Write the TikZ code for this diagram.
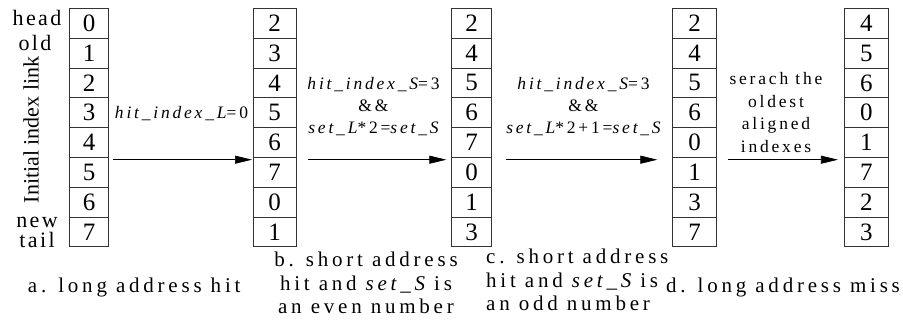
\documentclass[tikz,border=0pt]{standalone}
\usepackage{fontspec}
\setmainfont{Liberation Serif}
\usetikzlibrary{arrows.meta}

\begin{document}
\begin{tikzpicture}[x=1pt,y=-1pt,
        cell/.style={draw=black!80, line width=0.7pt, minimum height=29.8pt, inner sep=0pt, anchor=north, font=\fontsize{25}{25}\selectfont},
        arr/.style={-{Triangle[length=17pt,width=8pt]}, line width=0.7pt},
        lbl/.style={font=\fontsize{17.5}{22.4}\selectfont\addfontfeature{LetterSpace=16}, align=center, inner sep=0pt},
        captxt/.style={font=\fontsize{21}{23.5}\selectfont\addfontfeature{LetterSpace=18}, inner sep=0pt},
        side/.style={font=\fontsize{22}{22}\selectfont\addfontfeature{LetterSpace=11}, anchor=base, inner sep=0pt}]
    \useasboundingbox (0,0) rectangle (903,324);
    % index links
    \foreach \v [count=\i from 0] in {0,1,2,3,4,5,6,7}
        \node [cell, minimum width=39pt] (a\i) at (89,{8+29.8*\i}) {\v};
    \foreach \v [count=\i from 0] in {2,3,4,5,6,7,0,1}
        \node [cell, minimum width=42.7pt] (b\i) at (274.7,{8+29.8*\i}) {\v};
    \foreach \v [count=\i from 0] in {2,4,5,6,7,0,1,3}
        \node [cell, minimum width=40pt] (c\i) at (471.7,{8+29.8*\i}) {\v};
    \foreach \v [count=\i from 0] in {2,4,5,6,0,1,3,7}
        \node [cell, minimum width=43.6pt] (d\i) at (694.5,{8+29.8*\i}) {\v};
    \foreach \v [count=\i from 0] in {4,5,6,0,1,7,2,3}
        \node [cell, minimum width=44pt] (e\i) at (866.3,{8+29.8*\i}) {\v};
    % side labels
    \node [side] (head) at (37,25) {head};
    \node [side] (old) at (35,50) {old};
    \node [side] (new) at (37,227) {new};
    \node [side] (tail) at (37,247) {tail};
    \node [rotate=90, inner sep=0pt, font=\fontsize{22}{22}\selectfont] (init) at (31,130) {Initial index link};
    % steps
    \draw [arr, shorten <=4pt, shorten >=1pt] ([yshift=-2pt]a4.south east) -- ([yshift=-2pt]b4.south west);
    \draw [arr, shorten <=12pt, shorten >=5pt] ([yshift=-2pt]b4.south east) -- ([yshift=-2pt]c4.south west);
    \draw [arr, shorten <=14pt, shorten >=15pt] ([yshift=-2pt]c4.south east) -- ([yshift=-2pt]d4.south west);
    \draw [arr, shorten <=11pt, shorten >=6pt] ([yshift=-2pt]d4.south east) -- ([yshift=-2pt]e4.south west);
    \node [lbl, anchor=base] (ab) at (181.5,118) {{\itshape hit\_index\_L}=0};
    \node [lbl] (bc) at (373.5,106.5) {{\itshape hit\_index\_S}=3\\\&\&\\{\itshape set\_L}*2={\itshape set\_S}};
    \node [lbl] (cd) at (583.5,106.5) {{\itshape hit\_index\_S}=3\\\&\&\\{\itshape set\_L}*2+1={\itshape set\_S}};
    \node [lbl] (de) at (776,112.5) {serach the\\oldest\\aligned\\indexes};
    % captions
    \node [captxt, anchor=base] (capa) at (134.2,292.7) {a. long address hit};
    \node [captxt, align=center] (capb) at (366,283) {b. short address\\hit and {\itshape set\_S} is\\an even number};
    \node [captxt, align=left, anchor=west] (capc) at (486,280) {c. short address\\hit and {\itshape set\_S} is\\an odd number};
    \node [captxt, anchor=base] (capd) at (783,292.7) {d. long address miss};
\end{tikzpicture}
\end{document}
